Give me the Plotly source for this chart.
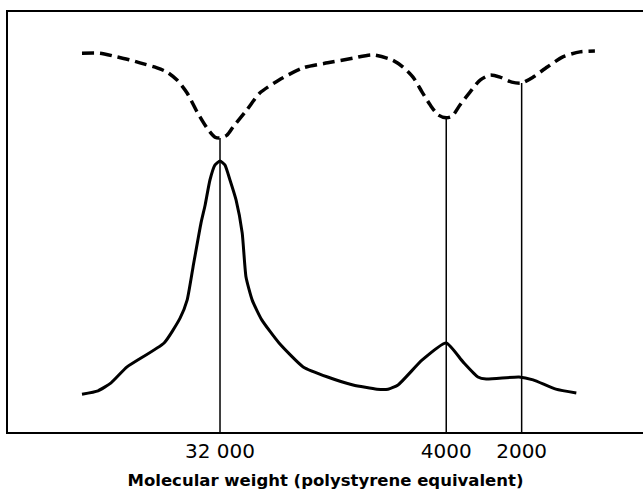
import plotly.graph_objects as go

# Molecular weight (polystyrene equivalent) positions and detector responses
dashed_mw = [113800, 96400, 82500, 73200, 66800, 57100, 52100, 47500, 43300, 39500,
             36100, 33500, 32000, 30000, 28400, 25000, 22200, 18600, 14900, 11900,
             9420, 7910, 6580, 5950, 5430, 5000, 4640, 4310, 4000, 3790,
             3520, 3210, 2930, 2670, 2440, 2190, 2000, 1800, 1580, 1370,
             1170, 1020]
dashed_resp = [90.2, 90.2, 89.3, 88.6, 87.9, 86.7, 85.7, 83.8, 80.7, 76.2,
               72.4, 70.2, 70.0, 70.7, 72.6, 76.7, 80.7, 83.8, 86.7, 87.9,
               89.0, 89.8, 88.6, 86.9, 84.5, 81.0, 77.9, 75.5, 74.8, 75.2,
               77.9, 81.0, 83.8, 85.0, 84.5, 83.3, 83.1, 84.5, 86.9, 89.3,
               90.5, 90.7]

solid_mw = [113800, 98200, 87100, 75200, 53500, 46200, 43300, 41000, 38100, 36700,
            35100, 33500, 32000, 30600, 29200, 27600, 26100, 25200, 23800, 21800,
            18600, 14900, 11900, 9420, 7560, 6830, 6230, 5000, 4000, 3430,
            2990, 2770, 2050, 1800, 1460, 1210]
solid_resp = [9.0, 9.8, 11.7, 15.5, 21.2, 27.1, 31.4, 39.3, 49.8, 54.0,
              60.0, 63.6, 64.5, 63.6, 60.0, 55.2, 47.4, 36.9, 31.4, 26.7,
              21.2, 15.5, 13.1, 11.2, 10.2, 10.2, 11.2, 17.1, 21.2, 16.7,
              13.1, 12.6, 13.1, 12.4, 10.2, 9.3]

marker_mw = [32000, 4000, 2000]
marker_text = ["32 000", "4000", "2000"]

x_range_log = [5.3515, 2.8166]
y_range = [0, 100]

fig = go.Figure()

# vertical drop lines from the dashed minima to the axis
for mw in marker_mw:
    top = dashed_resp[dashed_mw.index(mw)]
    fig.add_trace(go.Scatter(x=[mw, mw], y=[0, top], mode="lines",
                             line=dict(color="black", width=1.5),
                             showlegend=False, hoverinfo="skip"))

fig.add_trace(go.Scatter(x=dashed_mw, y=dashed_resp, mode="lines",
                         line=dict(color="black", width=3.5, dash="12px,6px",
                                   shape="spline", smoothing=0.7),
                         showlegend=False))
fig.add_trace(go.Scatter(x=solid_mw, y=solid_resp, mode="lines",
                         line=dict(color="black", width=3,
                                   shape="spline", smoothing=0.5),
                         showlegend=False))

fig.update_layout(
    width=643, height=491,
    margin=dict(l=8, r=0, t=12, b=59),
    paper_bgcolor="white", plot_bgcolor="white",
    font=dict(family="DejaVu Sans", color="black"),
)
fig.update_xaxes(
    type="log", range=x_range_log,
    tickmode="array", tickvals=marker_mw, ticktext=marker_text,
    ticks="", showgrid=False, zeroline=False,
    showline=True, linecolor="black", linewidth=2, mirror=True,
    tickfont=dict(size=20, family="DejaVu Sans"),
    title=dict(text="Molecular weight (polystyrene equivalent)",
               font=dict(size=16.5, family="DejaVu Sans", weight="bold"),
               standoff=12),
)
fig.update_yaxes(
    range=y_range, showticklabels=False, ticks="", showgrid=False,
    zeroline=False, showline=True, linecolor="black", linewidth=2, mirror=False,
)

fig.write_html("out.html")
